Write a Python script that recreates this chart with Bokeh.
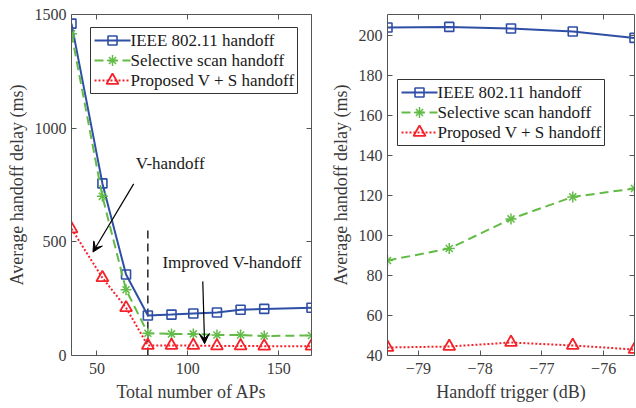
from bokeh.plotting import figure
from bokeh.layouts import row
from bokeh.models import (LinearAxis, FixedTicker, Range1d, Arrow, VeeHead, Label,
                          ColumnDataSource, BoxAnnotation)
from bokeh.embed import file_html
from bokeh.resources import INLINE

# ---- data: left panel (delay vs number of APs)
aps = [36, 53, 66, 78, 91, 103, 116, 129, 142, 168]
ieee_aps = [1460, 757, 356, 176, 180, 185, 189, 201, 205, 210]
sel_aps = [1415, 700, 289, 98, 95, 95, 90, 90, 86, 88]
prop_aps = [557, 342, 210, 44, 44, 44, 42, 42, 41, 41]

# ---- data: right panel (delay vs handoff trigger)
trig = [-79.5, -78.5, -77.5, -76.5, -75.5]
ieee_trig = [204.0, 204.3, 203.5, 202.0, 198.8]
sel_trig = [87.5, 93.5, 108.3, 119.3, 123.5]
prop_trig = [44.0, 44.5, 46.5, 45.0, 43.0]

left_xticks = [50, 100, 150]
left_yticks = [0, 500, 1000, 1500]
right_xticks = [-79, -78, -77, -76]
right_yticks = [40, 60, 80, 100, 120, 140, 160, 180, 200]

names = ["IEEE 802.11 handoff", "Selective scan handoff", "Proposed V + S handoff"]

BLUE = "#2f4fa6"
GREEN = "#62bb46"
RED = "#f5222a"
AX = "#555555"
TXT = "#3a3a3a"
FONT = "Liberation Serif"

LINE_STYLES = [dict(color=BLUE, line_width=2),
               dict(color=GREEN, line_width=2, line_dash="9 5"),
               dict(color=RED, line_width=2, line_dash="2 2")]
MARKERS = [[dict(marker="square", size=9, line_color=BLUE, fill_color=None, line_width=1.6)],
           [dict(marker="cross", size=11, line_color=GREEN, line_width=1.5),
            dict(marker="x", size=10, line_color=GREEN, line_width=1.5)],
           [dict(marker="triangle", size=12, line_color=RED, fill_color=None, line_width=1.8)]]

# legend geometry (screen px)
PAD, GW, ROW_H, LBL_X, BOX_W = 4, 36, 20, 59, 207


def style(p, xticks, yticks):
    p.xaxis.ticker = FixedTicker(ticks=xticks)
    p.yaxis.ticker = FixedTicker(ticks=yticks)
    for ax in [p.xaxis[0], p.yaxis[0]]:
        ax.major_tick_in = 5
        ax.major_tick_out = 0
        ax.minor_tick_line_color = None
        ax.axis_line_color = AX
        ax.major_tick_line_color = AX
        ax.major_label_text_font = FONT
        ax.major_label_text_font_size = "16px"
        ax.major_label_text_color = TXT
        ax.axis_label_text_font = FONT
        ax.axis_label_text_font_size = "18px"
        ax.axis_label_text_font_style = "normal"
        ax.axis_label_text_color = TXT
        ax.axis_label_standoff = 5
    p.xaxis.major_label_standoff = 7
    p.yaxis.major_label_standoff = 5
    top = LinearAxis(ticker=FixedTicker(ticks=xticks),
                     major_label_overrides={t: "" for t in xticks})
    right = LinearAxis(ticker=FixedTicker(ticks=yticks),
                       major_label_overrides={t: "" for t in yticks})
    for ax in [top, right]:
        ax.major_tick_in = 5
        ax.major_tick_out = 0
        ax.minor_tick_line_color = None
        ax.axis_line_color = AX
        ax.major_tick_line_color = AX
        ax.major_label_text_font_size = "1px"
        ax.major_label_standoff = 0
        ax.axis_label = None
    p.add_layout(top, "above")
    p.add_layout(right, "right")
    p.xgrid.grid_line_color = None
    p.ygrid.grid_line_color = None
    p.outline_line_color = None
    p.background_fill_color = "white"
    p.border_fill_color = "white"


def series(p, x, ys):
    for y, ls, mks in zip(ys, LINE_STYLES, MARKERS):
        src = ColumnDataSource(dict(x=x, y=y))
        p.line("x", "y", source=src, **ls)
        for mk in mks:
            p.scatter("x", "y", source=src, **mk)


def legend(p, loc, xr, yr, fw, fh):
    def fx(sx):
        return xr[0] + sx * (xr[1] - xr[0]) / fw

    def fy(sy):
        return yr[0] + sy * (yr[1] - yr[0]) / fh

    n = len(names)
    h = 2 * PAD + n * ROW_H - 2
    left, bottom = loc
    top = bottom + h
    p.add_layout(BoxAnnotation(left=fx(left), right=fx(left + BOX_W), bottom=fy(bottom),
                               top=fy(top), fill_alpha=0, line_color="#333333",
                               line_width=1, line_alpha=1))
    for i, (name, ls, mks) in enumerate(zip(names, LINE_STYLES, MARKERS)):
        cy = top - PAD - 9 - i * ROW_H
        x0 = left + PAD
        p.line([fx(x0), fx(x0 + GW)], [fy(cy), fy(cy)], **ls)
        for mk in mks:
            p.scatter([fx(x0 + GW / 2)], [fy(cy)], **mk)
        p.add_layout(Label(x=fx(left + LBL_X - 19 + 19 * 0 + 0) if False else fx(loc[0] + 40),
                           y=fy(cy), text=name, text_font=FONT, text_font_size="17px",
                           text_baseline="middle", text_color="#1a1a1a"))


# ---------------- left panel
xr1, yr1 = (36, 168), (0, 1500)
p1 = figure(frame_width=240, frame_height=341, output_backend="svg", toolbar_location=None,
            x_range=Range1d(*xr1), y_range=Range1d(*yr1),
            min_border_left=71, min_border_right=15, min_border_top=14, min_border_bottom=53,
            x_axis_label="Total number of APs", y_axis_label="Average handoff delay (ms)")
style(p1, left_xticks, left_yticks)

p1.line([78, 78], [0, 560], color="black", line_width=1.3, line_dash="8 5")
p1.add_layout(Arrow(end=VeeHead(size=10, line_color="black", fill_color="black", line_width=1),
                    x_start=70.2, y_start=755, x_end=47.8, y_end=455, line_width=1.2,
                    line_color="black"))
p1.add_layout(Arrow(end=VeeHead(size=10, line_color="black", fill_color="black", line_width=1),
                    x_start=108.2, y_start=326, x_end=109.2, y_end=52, line_width=1.2,
                    line_color="black"))
series(p1, aps, [ieee_aps, sel_aps, prop_aps])
p1.add_layout(Label(x=71.3, y=845, text="V-handoff", text_font=FONT, text_font_size="17px",
                    text_baseline="middle", text_color="#1a1a1a"))
p1.add_layout(Label(x=86, y=410, text="Improved V-handoff", text_font=FONT,
                    text_font_size="17px", text_baseline="middle", text_color="#1a1a1a"))
legend(p1, (19, 262), xr1, yr1, 240, 341)

# ---------------- right panel
xr2, yr2 = (-79.5, -75.5), (40, 210.5)
p2 = figure(frame_width=247, frame_height=341, output_backend="svg", toolbar_location=None,
            x_range=Range1d(*xr2), y_range=Range1d(*yr2),
            min_border_left=61, min_border_right=2, min_border_top=14, min_border_bottom=53,
            x_axis_label="Handoff trigger (dB)", y_axis_label="Average handoff delay (ms)")
style(p2, right_xticks, right_yticks)
series(p2, trig, [ieee_trig, sel_trig, prop_trig])
legend(p2, (10, 210), xr2, yr2, 247, 341)

layout = row(p1, p2)
open("out.html", "w").write(file_html(layout, INLINE))
